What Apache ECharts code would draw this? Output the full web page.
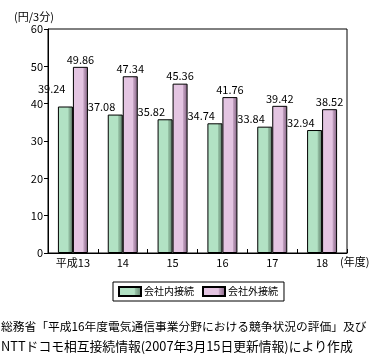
<!DOCTYPE html>
<html>
<head>
<meta charset="utf-8">
<script src="https://cdn.jsdelivr.net/npm/echarts@6/dist/echarts.min.js"></script>
<style>
html,body{margin:0;padding:0;background:#fff;}
#c{width:385px;height:358px;}
</style>
</head>
<body>
<div id="c"></div>
<script>
const categories = ['平成13', '14', '15', '16', '17', '18'];
const seriesNames = ['会社内接続', '会社外接続'];
const internalValues = [39.24, 37.08, 35.82, 34.74, 33.84, 32.94];
const externalValues = [49.86, 47.34, 45.36, 41.76, 39.42, 38.52];
const yTicks = { min: 0, max: 60, interval: 10 };
const unitLabel = '(円/3分)';
const xUnitLabel = '(年度)';
const sourceLines = [
  '総務省「平成16年度電気通信事業分野における競争状況の評価」及び',
  'NTTドコモ相互接続情報(2007年3月15日更新情報)により作成'
];

const FONT = '"Noto Sans CJK JP", "Liberation Sans", sans-serif';

function grad(base, mid, dark) {
  return new echarts.graphic.LinearGradient(0, 0, 1, 0, [
    { offset: 0, color: base },
    { offset: 0.68, color: base },
    { offset: 0.72, color: mid },
    { offset: 1, color: dark }
  ]);
}

const chart = echarts.init(document.getElementById('c'), null, { renderer: 'canvas' });

const internalData = internalValues.map((v, i) => i === 0
  ? { value: v, label: { distance: 12 } }
  : v);

const tStyle = (size) => ({ fontSize: size, fontWeight: 'normal', color: '#000', fontFamily: FONT });

chart.setOption({
  animation: false,
  backgroundColor: '#ffffff',
  textStyle: { fontFamily: FONT },
  title: [
    { text: unitLabel, left: 14, top: 11, padding: 0, textStyle: tStyle(11) },
    { text: xUnitLabel, left: 340, top: 256, padding: 0, textStyle: tStyle(11) },
    { text: sourceLines[0], left: 1, top: 321, padding: 0, textStyle: tStyle(11.75) },
    { text: sourceLines[1], left: 1, top: 340, padding: 0, textStyle: tStyle(12.8) }
  ],
  grid: {
    left: 48, right: 38, top: 29, bottom: 105,
    show: true, borderColor: '#000', borderWidth: 1, backgroundColor: 'transparent'
  },
  legend: {
    left: 113, top: 282,
    padding: [4, 6, 4, 5],
    itemWidth: 22, itemHeight: 9, itemGap: 8,
    borderColor: '#000', borderWidth: 1, backgroundColor: '#fff',
    borderRadius: 0,
    icon: 'rect',
    textStyle: { fontSize: 10, color: '#000', fontFamily: FONT, padding: [0, 0, 0, -2] },
    data: seriesNames
  },
  xAxis: {
    type: 'category',
    data: categories,
    axisLine: { lineStyle: { color: '#000', width: 1 } },
    axisTick: { show: true, inside: true, length: 4, lineStyle: { color: '#000' } },
    axisLabel: { color: '#000', fontSize: 11, margin: 4, fontFamily: FONT }
  },
  yAxis: {
    type: 'value',
    min: yTicks.min, max: yTicks.max, interval: yTicks.interval,
    axisLine: { show: true, lineStyle: { color: '#000', width: 1 } },
    axisTick: { show: true, length: 4, lineStyle: { color: '#000' } },
    axisLabel: { color: '#000', fontSize: 11, margin: 5, fontFamily: FONT },
    splitLine: { show: false }
  },
  series: [
    {
      name: seriesNames[0], type: 'bar', barWidth: 15, barGap: '0%',
      data: internalData,
      itemStyle: { color: grad('#b2e2c4', '#96c2a6', '#5f7d6a'), borderColor: '#000', borderWidth: 1 },
      label: { show: true, position: 'top', align: 'right', distance: 2, color: '#000', fontSize: 11, fontFamily: FONT }
    },
    {
      name: seriesNames[1], type: 'bar', barWidth: 15,
      data: externalValues,
      itemStyle: { color: grad('#e4c5e2', '#c4a2c2', '#806080'), borderColor: '#000', borderWidth: 1 },
      label: { show: true, position: 'top', distance: 2, color: '#000', fontSize: 11, fontFamily: FONT }
    }
  ]
});
</script>
</body>
</html>
